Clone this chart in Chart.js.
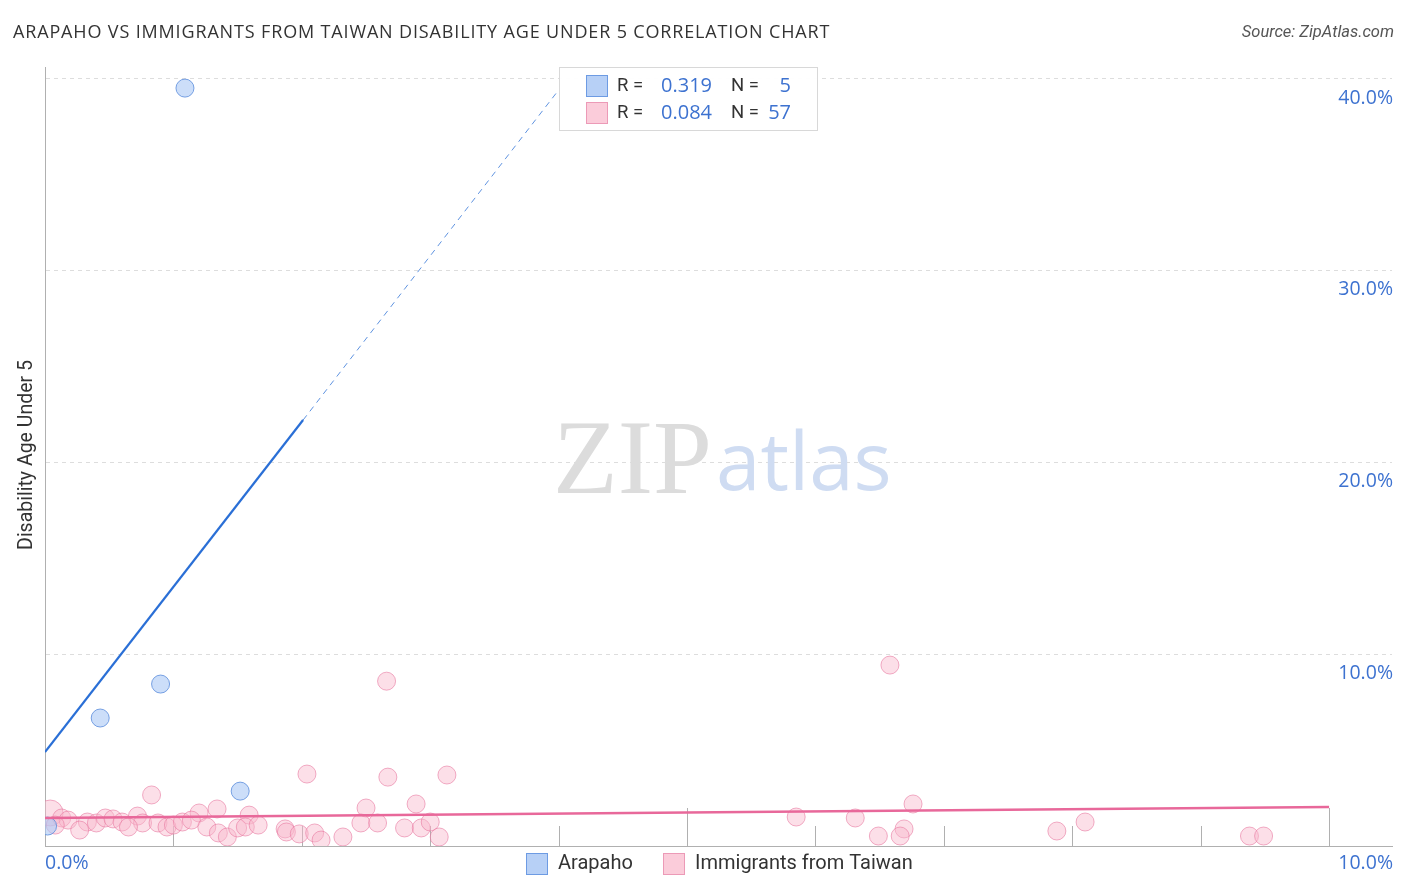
<!DOCTYPE html>
<html>
<head>
<meta charset="utf-8">
<script src="https://cdn.jsdelivr.net/npm/chart.js@4.4.1/dist/chart.umd.min.js"></script>
<style>
  html, body { margin: 0; padding: 0; background: #fff; }
  #wrap { width: 1406px; height: 892px; position: relative; }
</style>
</head>
<body>
<div id="wrap"><canvas id="corrChart" width="1406" height="892"></canvas></div>
<script>
// values (percent)
const arapahoX = [1.09, 0.90, 0.43, 1.52, 0.02];
const arapahoY = [39.5, 8.44, 6.67, 2.86, 1.04];

const taiwanX = [0.04, 2.66, 2.04, 2.67, 3.13, 0.83, 2.50, 2.89, 1.34, 1.20, 1.59, 0.13, 0.18, 0.33, 0.40,
  0.47, 0.53, 0.60, 0.72, 0.76, 0.88, 0.95, 1.00, 1.07, 1.14, 1.26, 1.35, 1.42, 1.50, 1.56,
  1.66, 1.87, 1.88, 1.98, 2.10, 2.15, 2.32, 2.46, 2.59, 2.80, 2.93, 3.00, 3.07, 0.27, 0.65,
  5.85, 6.31, 6.49, 6.69, 6.66, 6.76, 6.58, 7.88, 8.10, 9.38, 9.49, 0.08];
const taiwanY = [1.72, 8.59, 3.75, 3.59, 3.70, 2.66, 1.98, 2.19, 1.93, 1.72, 1.61, 1.46, 1.35, 1.25, 1.20,
  1.46, 1.41, 1.25, 1.56, 1.20, 1.20, 0.99, 1.09, 1.25, 1.35, 0.99, 0.68, 0.47, 0.94, 0.99,
  1.09, 0.89, 0.73, 0.63, 0.68, 0.31, 0.47, 1.20, 1.20, 0.94, 0.94, 1.25, 0.47, 0.83, 0.99,
  1.51, 1.46, 0.52, 0.89, 0.52, 2.19, 9.43, 0.78, 1.25, 0.52, 0.52, 1.09];

// trend line end points
const arapahoTrendX = [0, 2.01];
const arapahoTrendY = [4.9, 22.2];
const arapahoDashX = [2.01, 4.0];
const arapahoDashY = [22.2, 39.4];
const taiwanTrendX = [0, 10];
const taiwanTrendY = [1.46, 2.03];

const yTicks = [10, 20, 30, 40];
const xTicks = [1, 2, 3, 4, 5, 6, 7, 8, 9, 10];
const xMajor = [5, 10];

const seriesNames = ['Arapaho', 'Immigrants from Taiwan'];
const rValues = ['0.319', '0.084'];
const nValues = ['5', '57'];

const BLUE = '#2a6fd6';
const PINK = '#e8689a';
const LABEL_BLUE = '#3d72d0';
const TEXT = '#333333';

function pts(xs, ys) {
    return xs.map((x, i) => ({ x: x, y: ys[i] }));
}

// draws title, watermark, tick labels, tick marks and legends
const decorPlugin = {
    id: 'decor',
    beforeDatasetsDraw(chart) {
        const c = chart.ctx;
        const area = chart.chartArea;
        const xs = chart.scales.x;
        c.save();
        // watermark
        c.textBaseline = 'alphabetic';
        c.textAlign = 'left';
        c.font = '106px "Liberation Serif", serif';
        c.fillStyle = '#dcdcdc';
        c.fillText('ZIP', 553, 493);
        c.font = '80px "Open Sans", sans-serif';
        c.fillStyle = '#cfdcf2';
        c.fillText('atlas', 716, 490);
        // tick marks on the x axis
        c.strokeStyle = '#b0b0b0';
        c.lineWidth = 1;
        xTicks.forEach(v => {
            const px = Math.round(xs.getPixelForValue(v)) + 0.5;
            const len = xMajor.includes(v) ? 38 : 20;
            c.beginPath();
            c.moveTo(px, area.bottom);
            c.lineTo(px, area.bottom - len);
            c.stroke();
        });
        c.restore();
    },
    afterDraw(chart) {
        const c = chart.ctx;
        const ys = chart.scales.y;
        c.save();
        // title
        c.fillStyle = TEXT;
        c.textBaseline = 'middle';
        c.textAlign = 'left';
        c.font = '18px "Open Sans", sans-serif';
        c.letterSpacing = '0.85px';
        c.fillText('ARAPAHO VS IMMIGRANTS FROM TAIWAN DISABILITY AGE UNDER 5 CORRELATION CHART', 13, 33);
        c.letterSpacing = '0px';
        c.textAlign = 'right';
        c.font = 'italic 16.5px Roboto, sans-serif';
        c.fillStyle = '#555';
        c.fillText('Source: ZipAtlas.com', 1394, 33);

        // y labels on the right
        c.font = '19.5px "Open Sans", sans-serif';
        c.fillStyle = LABEL_BLUE;
        yTicks.forEach(v => {
            c.fillText(v.toFixed(1) + '%', 1393, ys.getPixelForValue(v) + 19.5);
        });
        // x labels
        c.fillText('10.0%', 1393, 863);
        c.textAlign = 'left';
        c.fillText('0.0%', 45, 863);

        // y axis title
        c.save();
        c.translate(27, 455);
        c.rotate(-Math.PI / 2);
        c.textAlign = 'center';
        c.fillStyle = TEXT;
        c.font = '19.5px Roboto, sans-serif';
        c.fillText('Disability Age Under 5', 0, 0);
        c.restore();

        // top legend box
        c.fillStyle = 'rgba(255,255,255,0.95)';
        c.fillRect(559.5, 67.5, 258, 63);
        c.strokeStyle = '#d8d8d8';
        c.lineWidth = 1;
        c.strokeRect(559.5, 67.5, 258, 63);
        const fills = ['rgba(170,200,245,0.85)', 'rgba(250,195,212,0.85)'];
        const edges = ['#6d9be3', '#ec9ab7'];
        [86, 113].forEach((cy, i) => {
            c.fillStyle = fills[i];
            c.fillRect(586.5, cy - 10.5, 21, 21);
            c.strokeStyle = edges[i];
            c.strokeRect(586.5, cy - 10.5, 21, 21);
            c.font = '18.5px Roboto, sans-serif';
            c.fillStyle = TEXT;
            c.textAlign = 'left';
            c.fillText('R =', 617, cy);
            c.fillText('N =', 731, cy);
            c.font = '20px "Open Sans", sans-serif';
            c.fillStyle = LABEL_BLUE;
            c.textAlign = 'right';
            c.fillText(rValues[i], 712, cy);
            c.fillText(nValues[i], 791, cy);
        });

        // bottom legend
        const lx = [526, 663];
        lx.forEach((x, i) => {
            c.fillStyle = fills[i];
            c.fillRect(x + 0.5, 853.5, 21, 21);
            c.strokeStyle = edges[i];
            c.strokeRect(x + 0.5, 853.5, 21, 21);
            c.font = '20px Roboto, sans-serif';
            c.fillStyle = TEXT;
            c.textAlign = 'left';
            c.fillText(seriesNames[i], x + 32, 864);
        });
        c.restore();
    }
};

const ctx = document.getElementById('corrChart').getContext('2d');
const corrChart = new Chart(ctx, {
    type: 'scatter',
    data: {
        datasets: [
            {
                label: 'Arapaho trend',
                type: 'line',
                data: pts(arapahoTrendX, arapahoTrendY),
                borderColor: BLUE,
                borderWidth: 2.2,
                pointRadius: 0,
                fill: false,
                order: 0
            },
            {
                label: 'Arapaho trend extended',
                type: 'line',
                data: pts(arapahoDashX, arapahoDashY),
                borderColor: 'rgba(42,111,214,0.75)',
                borderWidth: 1,
                borderDash: [6, 5],
                pointRadius: 0,
                fill: false,
                order: 0
            },
            {
                label: 'Immigrants from Taiwan trend',
                type: 'line',
                data: pts(taiwanTrendX, taiwanTrendY),
                borderColor: PINK,
                borderWidth: 2.5,
                pointRadius: 0,
                fill: false,
                order: 0
            },
            {
                label: seriesNames[0],
                data: pts(arapahoX, arapahoY),
                backgroundColor: 'rgba(170,200,245,0.6)',
                borderColor: 'rgba(90,140,220,0.8)',
                borderWidth: 1,
                pointRadius: 9,
                order: 1
            },
            {
                label: seriesNames[1],
                data: pts(taiwanX, taiwanY),
                backgroundColor: 'rgba(248,185,205,0.45)',
                borderColor: 'rgba(232,120,160,0.6)',
                borderWidth: 1,
                pointRadius: c => (c.dataIndex === 0 ? 13 : 9), // first one is the big bubble at the origin
                order: 2
            }
        ]
    },
    options: {
        responsive: false,
        animation: false,
        layout: { padding: { left: 45, right: 13, top: 67, bottom: 46 } },
        plugins: {
            legend: { display: false },
            title: { display: false },
            tooltip: { enabled: false }
        },
        scales: {
            x: {
                type: 'linear',
                min: 0,
                max: 10.49,
                afterBuildTicks: s => { s.ticks = xTicks.map(v => ({ value: v })); },
                ticks: { display: false },
                grid: { display: false, drawTicks: false },
                border: { display: true, color: '#b0b0b0', width: 1 }
            },
            y: {
                type: 'linear',
                min: 0,
                max: 40.6,
                afterBuildTicks: s => { s.ticks = yTicks.map(v => ({ value: v })); },
                ticks: { display: false },
                grid: { display: true, drawTicks: false, color: '#dddddd', lineWidth: 1 },
                border: { display: true, color: '#b0b0b0', width: 1, dash: [4, 4] }
            }
        }
    },
    plugins: [decorPlugin]
});
</script>
</body>
</html>
